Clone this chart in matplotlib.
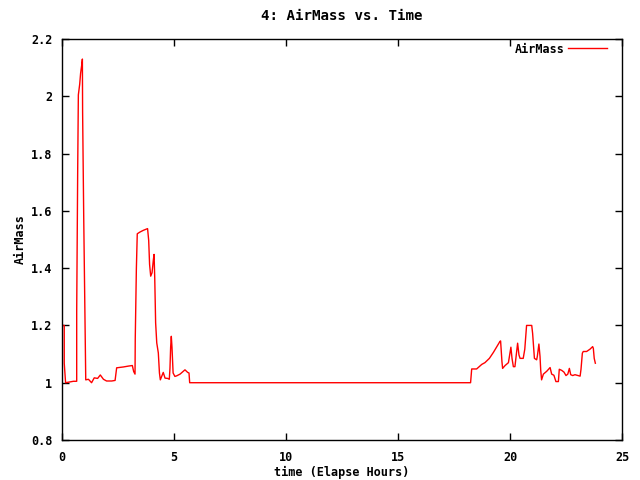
import matplotlib
matplotlib.use("Agg")
import matplotlib.pyplot as plt
from matplotlib.ticker import FixedLocator, FixedFormatter

# elapsed hours and airmass
hours = [0.01, 0.01, 0.10, 0.10, 0.16, 0.36, 0.51, 0.656, 0.656, 0.70, 0.73, 0.79, 0.83, 0.88, 0.91,
         0.92, 0.97, 1.03, 1.06, 1.18, 1.32, 1.44, 1.59, 1.71, 1.85, 1.99, 2.22, 2.37,
         2.44, 2.74, 2.96, 3.14, 3.20, 3.26, 3.27, 3.32, 3.36, 3.48, 3.63, 3.82, 3.87, 3.91,
         3.96, 4.02, 4.08, 4.11, 4.14, 4.18, 4.23, 4.30, 4.35, 4.39, 4.45, 4.52, 4.60, 4.72,
         4.79, 4.82, 4.85, 4.88, 4.91, 4.96, 5.04, 5.12, 5.27, 5.42, 5.49, 5.61, 5.67, 5.70,
         18.24, 18.29, 18.51, 18.74, 18.88, 19.08, 19.26, 19.41, 19.55, 19.58, 19.64, 19.67,
         19.78, 19.93, 20.00, 20.04, 20.09, 20.15, 20.22, 20.30, 20.34, 20.40, 20.45, 20.59,
         20.66, 20.74, 20.97, 21.01, 21.09, 21.19, 21.22, 21.29, 21.34, 21.37, 21.41, 21.49,
         21.64, 21.79, 21.86, 21.96, 22.05, 22.16, 22.20, 22.31, 22.41, 22.50, 22.58, 22.65,
         22.71, 22.80, 22.90, 23.05, 23.13, 23.17, 23.23, 23.27, 23.42, 23.57, 23.69, 23.72,
         23.76, 23.81]
airmass = [1.26, 1.20, 1.20, 1.068, 1.00, 1.003, 1.005, 1.005, 1.248, 1.739, 2.005, 2.042, 2.08, 2.109, 2.13,
           1.946, 1.575, 1.198, 1.01, 1.012, 1.0, 1.017, 1.015, 1.027, 1.012, 1.006, 1.006, 1.008,
           1.052, 1.055, 1.058, 1.06, 1.039, 1.03, 1.152, 1.398, 1.52, 1.526, 1.532, 1.538, 1.497, 1.413,
           1.372, 1.384, 1.43, 1.448, 1.366, 1.209, 1.139, 1.104, 1.034, 1.01, 1.022, 1.036, 1.016, 1.015,
           1.012, 1.05, 1.124, 1.162, 1.124, 1.034, 1.022, 1.024, 1.03, 1.04, 1.045, 1.036, 1.034, 1.0,
           1.0, 1.048, 1.048, 1.064, 1.07, 1.085, 1.106, 1.126, 1.144, 1.146, 1.074, 1.05,
           1.06, 1.07, 1.103, 1.124, 1.085, 1.056, 1.056, 1.109, 1.138, 1.097, 1.085, 1.085,
           1.117, 1.20, 1.20, 1.172, 1.085, 1.08, 1.092, 1.135, 1.092, 1.045, 1.01, 1.03,
           1.04, 1.053, 1.03, 1.026, 1.004, 1.004, 1.047, 1.043, 1.037, 1.025, 1.03, 1.05,
           1.028, 1.025, 1.028, 1.025, 1.023, 1.047, 1.103, 1.109, 1.109, 1.117, 1.126, 1.12,
           1.085, 1.068]

xticks = [0, 5, 10, 15, 20, 25]
yticks = [0.8, 1.0, 1.2, 1.4, 1.6, 1.8, 2.0, 2.2]
ylabels = ["0.8", "1", "1.2", "1.4", "1.6", "1.8", "2", "2.2"]

plt.rcParams["font.family"] = "DejaVu Sans Mono"
plt.rcParams["font.weight"] = "bold"
plt.rcParams["font.size"] = 8.5

fig = plt.figure(figsize=(6.4, 4.8), dpi=100)
ax = fig.add_axes([62 / 640, 40 / 480, 560 / 640, 401 / 480])

ax.plot(hours, airmass, color="red", lw=1, label="AirMass")

ax.set_xlim(0, 25)
ax.set_ylim(0.8, 2.2)
ax.xaxis.set_major_locator(FixedLocator(xticks))
ax.yaxis.set_major_locator(FixedLocator(yticks))
ax.yaxis.set_major_formatter(FixedFormatter(ylabels))
ax.tick_params(direction="in", length=5, width=1, top=True, right=True, colors="black")
ax.tick_params(axis="x", pad=8)
ax.tick_params(axis="y", pad=7)
for s in ax.spines.values():
    s.set_linewidth(1)

ax.set_title("4: AirMass vs. Time", fontweight="bold", pad=14)
ax.set_xlabel("time (Elapse Hours)", fontweight="bold", labelpad=1)
ax.set_ylabel("AirMass", fontweight="bold", labelpad=3)

ax.legend(loc="upper right", bbox_to_anchor=(0.979, 1.0), frameon=False, markerfirst=False,
          handlelength=3.3, borderaxespad=0.0, handletextpad=0.25, borderpad=0.3)

fig.savefig("out.png", dpi=100)
